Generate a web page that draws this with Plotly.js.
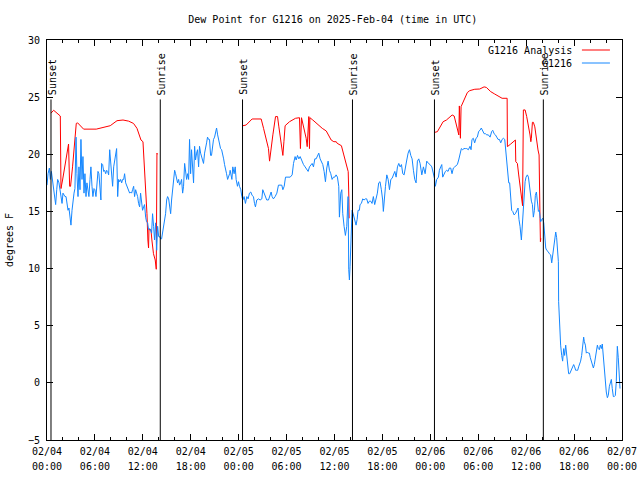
<!DOCTYPE html>
<html>
<head>
<meta charset="utf-8">
<script src="https://cdn.plot.ly/plotly-3.0.1.min.js"></script>
<style>html,body{margin:0;padding:0;background:#fff;}#chart{width:640px;height:480px;}</style>
</head>
<body>
<div id="chart"></div>
<script>
// ---- data (minutes after 2025-02-04 00:00 UTC) ----
const startDate = '2025-02-04';
const endDate = '2025-02-07';

const blueMinutes = [0,8,18,25,33,40,50,58,65,73,80,90,98,105,113,120,128,135,143,150,158,165,173,180,188,195,203,210,218,225,233,240,248,255,263,270,278,285,293,300,308,315,323,330,338,345,353,360,368,375,383,390,398,405,410,418,426,433,441,448,456,463,471,478,486,493,501,508,516,523,531,538,546,553,561,568,576,583,591,598,606,613,621,628,636,643,651,658,666,673,681,688,696,703,711,718,726,733,741,748,756,763,771,778,786,793,801,808,816,824,831,839,846,854,861,869,876,884,891,899,906,914,921,929,936,944,951,959,966,974,981,989,996,1004,1011,1019,1026,1034,1041,1049,1056,1064,1071,1079,1086,1094,1101,1109,1116,1124,1131,1139,1146,1154,1161,1169,1176,1184,1191,1199,1206,1214,1221,1229,1236,1244,1251,1259,1267,1274,1282,1289,1297,1304,1312,1319,1327,1334,1342,1349,1357,1364,1372,
1376,1389,1396,1406,1414,1421,1431,1439,1446,1456,1464,1471,1481,1491,1501,1511,1521,1531,1541,1551,1559,1566,1576,1589,1601,1614,1621,1631,1641,1651,1664,1676,1684,1691,1701,1714,1727,1739,1752,1764,1772,1782,1792,1802,1827,1842,1852,1864,1872,1882,1892,1902,1914,1927,1939,1952,1962,1972,1982,1992,2002,2012,2022,2032,2042,2052,2062,2072,2082,2092,2102,2112,2122,2132,2142,2152,2162,2172,2182,2192,2197,2207,2215,2222,2232,2242,2252,2262,2267,2272,2277,2285,2292,2300,2307,2315,2322,2330,2337,2347,2352,2362,2372,2382,2392,2402,2412,2422,2432,2442,2452,2462,2472,2482,2492,2502,2512,2522,2527,2535,2543,2553,2563,2573,2583,2593,2603,2613,2623,2633,2643,2653,2663,2673,2683,2693,2703,2713,2723,2733,2743,2753,2763,2773,2783,2793,2803,
2816,2828,2841,2853,2866,2878,2891,2903,2911,2918,2928,2941,2948,2958,2966,2973,2983,2993,3003,3013,3023,3033,3043,3053,3063,3073,3083,3093,3103,3113,3123,3133,3143,3153,3166,3178,3186,3193,3203,3213,3223,3233,3243,3253,3263,3274,3284,3294,3304,3316,3329,3341,3349,3359,3369,3379,3389,3399,3409,3419,3429,3439,3446,3454,3461,3469,3476,3484,3491,3499,3509,3519,3529,3539,3546,3554,3564,3571,3579,
3584,3592,3599,3609,3617,3624,3632,3639,3647,3654,3662,3669,3677,3684,3692,3699,3709,3717,3724,3732,3739,3747,3754,3764,3774,3784,3792,3799,3807,3814,3822,3829,3837,3842,3844,3852,3859,3867,3874,3882,3889,3897,3904,3912,3919,3927,3934,3942,3949,3957,3964,3972,3979,3987,3994,4002,4009,4017,4024,4032,4037,4045,4052,4060,4067,4075,4082,4090,4097,4105,4112,4120,4127,4135,4142,4150,4157,4165,4172,4180,4187,4195,4202,4210,4217,4225,4232,4240,4247,4255,4262,4270,4277,4285,4292,4300,4305];

const blueValues = [17.3,18.3,18.8,17.8,18.5,17.8,17.2,16.3,15.6,16.9,17.8,17.5,17.0,16.4,15.7,16.6,16.4,16.3,16.3,15.4,15.1,15.3,14.3,13.8,15.1,16.0,16.6,17.0,21.5,18.3,16.3,18.9,16.9,21.3,17.8,19.8,16.6,18.3,16.3,17.5,16.6,16.3,17.8,18.9,17.2,16.3,17.0,16.9,16.3,17.8,18.5,18.3,17.2,16.0,19.2,19.1,18.5,18.6,18.3,18.6,18.5,18.2,20.4,19.2,18.3,17.2,18.9,19.5,20.1,20.5,16.3,17.8,17.6,17.8,17.5,17.8,17.8,18.3,17.5,17.3,17.2,17.0,16.6,16.7,16.6,16.9,17.2,16.3,16.9,16.6,16.3,15.7,15.4,16.6,15.7,15.1,15.4,15.6,14.5,14.1,14.0,13.4,13.5,13.4,13.1,14.8,13.7,12.5,14.0,11.6,13.7,12.8,12.8,12.6,12.6,13.1,13.7,14.3,14.8,16.0,16.3,16.1,15.4,14.8,16.0,16.9,17.8,18.6,18.3,17.8,17.5,17.8,17.3,17.5,17.8,16.6,17.2,19.2,18.3,17.8,18.3,17.8,21.3,18.3,20.4,18.3,17.5,20.7,19.5,20.1,20.4,18.9,20.7,20.1,19.8,19.5,19.2,20.1,20.7,21.0,21.5,21.3,21.3,19.9,19.9,20.7,21.3,21.5,22.1,22.3,21.7,21.3,20.7,20.5,20.4,20.1,19.6,19.1,18.5,18.3,17.8,18.0,18.3,
18.6,17.8,18.9,18.3,18.9,17.8,17.2,17.6,17.2,16.9,16.3,16.0,16.3,15.7,16.3,16.1,16.6,16.7,16.4,16.3,15.7,15.4,16.0,16.1,16.0,16.1,16.9,16.6,16.3,16.0,16.0,16.4,16.7,16.3,16.1,16.3,16.6,17.3,17.3,17.3,16.9,17.2,18.0,18.0,18.0,18.2,19.2,19.8,19.5,19.9,19.6,19.8,19.4,19.1,18.9,18.6,18.5,18.9,19.1,19.2,18.9,19.6,19.6,19.9,20.1,19.6,19.4,19.1,18.5,17.6,18.8,19.4,18.6,18.3,17.8,18.0,18.0,18.2,18.0,17.2,14.5,16.6,16.9,14.8,13.7,12.9,13.7,16.3,9.9,9.0,10.2,13.1,15.1,14.8,14.5,14.3,13.8,14.3,15.1,15.1,15.6,15.7,16.1,16.0,16.1,16.1,15.7,15.9,15.9,15.7,16.3,15.6,16.0,16.6,17.5,17.6,16.9,16.0,15.0,16.6,17.2,18.2,17.8,16.9,17.8,17.9,18.3,18.5,18.0,18.9,19.2,18.9,19.1,18.3,18.2,19.1,19.5,20.1,20.4,19.9,19.6,18.6,17.8,17.5,19.4,19.6,19.2,
18.2,18.9,18.3,19.4,19.2,19.1,18.9,18.3,17.9,17.2,17.8,18.0,18.6,18.9,19.1,18.0,18.3,18.5,18.6,18.5,18.8,18.8,18.3,18.8,18.9,19.0,19.1,19.5,20.1,20.5,20.4,20.5,20.5,20.5,20.4,20.7,20.4,21.3,21.4,21.0,21.4,21.5,22.0,22.1,22.3,22.0,21.8,21.8,21.7,21.7,21.5,22.0,22.1,21.8,21.7,21.5,21.3,21.3,21.0,21.3,21.4,21.3,20.4,19.6,18.9,17.5,17.5,16.0,15.1,15.0,14.7,14.8,15.1,15.3,14.3,13.7,12.5,14.0,15.4,
17.0,17.6,18.0,18.2,18.0,17.2,16.3,15.9,15.6,14.5,15.1,16.4,16.7,15.9,15.0,15.1,14.1,14.3,14.4,14.0,12.4,11.8,11.6,11.5,11.3,11.2,10.5,11.2,12.1,12.9,13.2,12.7,11.5,10.6,7.1,4.5,3.3,2.4,1.9,3.0,2.4,3.3,2.3,1.3,0.8,0.8,1.0,1.3,1.5,1.6,1.4,1.1,1.1,1.1,1.4,1.6,1.9,2.4,3.5,4.0,3.6,3.3,2.6,2.7,2.6,2.6,2.2,1.9,1.6,1.3,1.6,2.2,2.7,3.3,3.0,2.9,3.3,3.0,3.4,2.2,1.3,0.5,-0.8,-1.3,-1.1,-0.3,0.1,0.3,-0.5,-1.2,-1.2,-1.1,0.1,3.2,2.2,0.4,-0.5];

const redMinutes = [30,50,100,105,117,137,158,162,170,177,192,207,220,230,250,275,370,413,475,526,571,613,650,676,706,721,733,743,751,758,763,766,781,788,800,813,821,826,830,
1150,
1472,1496,1541,1609,1627,1647,1664,1672,1679,1697,1717,1732,1742,1759,1772,1780,1789,1822,1867,1897,1904,1912,1930,1947,1955,1962,1967,1972,1975,1997,2035,2068,2098,2135,2155,2173,2180,2212,2230,2248,2263,2268,2270,
2590,
2914,2933,2976,3001,3044,3059,3076,3094,3098,3106,3111,3121,3139,3158,3176,3214,3251,3284,3301,3334,3364,3389,3419,3457,3459,3484,3519,3522,3534,3544,3556,3573,3579,3592,3604,3622,3629,3635,3639,3647,3654,3665,3672,3680,3689,3697,3699,3704,3707,3710];

const redValues = [23.6,23.85,23.35,17.0,17.75,19.2,20.5,20.9,17.2,17.2,18.9,20.7,22.7,22.75,22.5,22.2,22.2,22.35,22.5,22.94,23.0,22.9,22.7,22.27,21.25,21.1,18.9,17.2,14.8,12.5,11.8,13.4,13.4,12.5,11.3,10.75,9.94,20.1,20.0,
null,
22.5,22.56,23.09,23.09,22.27,21.4,20.5,19.4,20.1,21.7,23.3,23.3,22.4,20.8,19.9,21.1,22.5,22.85,23.15,23.2,20.5,23.2,22.27,21.4,20.67,22.4,23.3,20.5,23.2,23.0,22.6,22.27,22.04,21.25,21.1,21.1,20.96,20.75,19.94,19.0,18.48,16.15,14.4,
null,
21.92,21.98,22.85,23.0,23.44,23.35,22.56,21.69,24.23,21.4,24.17,24.46,24.9,25.4,25.57,25.69,25.71,25.9,25.85,25.48,25.27,25.1,24.9,24.9,20.67,20.9,21.25,19.35,19.2,18.19,16.88,15.5,23.88,23.88,23.3,22.27,21.69,21.1,21.4,22.8,22.8,22.4,21.69,20.96,20.38,19.94,16.15,14.4,12.35,12.65];

const eventMinutes = [30, 851, 1469, 2295, 2911, 3729];
const eventLabels = ['Sunset','Sunrise','Sunset','Sunrise','Sunset','Sunrise'];

const seriesNames = ['G1216 Analysis', 'G1216'];
const seriesColors = ['#ff0000', '#1487ff'];

// ---- helpers ----
const BASE = Date.UTC(2025, 1, 4, 0, 0, 0);
function ts(m) {
  const d = new Date(BASE + m * 60000);
  return d.toISOString().slice(0, 19).replace('T', ' ');
}

const FONT = {family: 'DejaVu Sans Mono, monospace', size: 10, color: '#000'};
const xRange = [startDate + ' 00:00', endDate + ' 00:00'];

const traces = [
  {x: redMinutes.map(ts), y: redValues, type: 'scatter', mode: 'lines',
   name: seriesNames[0], line: {color: seriesColors[0], width: 1}, connectgaps: false, hoverinfo: 'skip'},
  {x: blueMinutes.map(ts), y: blueValues, type: 'scatter', mode: 'lines',
   name: seriesNames[1], line: {color: seriesColors[1], width: 1}, hoverinfo: 'skip'},
  // empty trace so the second (time-of-day label) axis is drawn
  {x: [], y: [], xaxis: 'x2', yaxis: 'y', type: 'scatter', mode: 'lines', hoverinfo: 'skip'}
];

const shapes = eventMinutes.map(m => ({
  type: 'line', xref: 'x', yref: 'y', x0: ts(m), x1: ts(m), y0: -5, y1: 24.8,
  line: {color: '#000', width: 1}
}));
const annotations = eventMinutes.map((m, i) => ({
  x: ts(m), y: 25.0, xref: 'x', yref: 'y', text: eventLabels[i], showarrow: false,
  textangle: -90, xanchor: 'center', yanchor: 'bottom', font: FONT, xshift: 1
}));

// legend (text left of sample line, gnuplot style)
const legY = [0.975, 0.9425];
seriesNames.forEach((n, i) => {
  annotations.push({x: 0.9166, y: legY[i], xref: 'paper', yref: 'paper', text: n, showarrow: false,
    xanchor: 'right', yanchor: 'middle', font: FONT});
  shapes.push({type: 'line', xref: 'paper', yref: 'paper', x0: 0.9303, x1: 0.979, y0: legY[i], y1: legY[i],
    line: {color: seriesColors[i], width: 1}});
});

const layout = {
  width: 640, height: 480,
  margin: {l: 47, r: 18, t: 40, b: 40},
  paper_bgcolor: '#fff', plot_bgcolor: '#fff',
  font: FONT,
  showlegend: false,
  title: {text: 'Dew Point for G1216 on 2025-Feb-04 (time in UTC)', font: FONT,
          x: 0.497, xref: 'paper', xanchor: 'center', y: 0.9604, yref: 'container', yanchor: 'middle'},
  xaxis: {
    type: 'date', range: xRange,
    dtick: 6 * 3600000, tick0: startDate + ' 00:00', tickformat: '%m/%d',
    ticks: 'inside', ticklen: 6, tickcolor: '#000', tickwidth: 1,
    minor: {dtick: 2 * 3600000, ticks: 'inside', ticklen: 3, tickcolor: '#000', showgrid: false},
    showline: true, linecolor: '#000', linewidth: 1, mirror: 'ticks',
    showgrid: false, zeroline: false, tickfont: FONT, ticklabelstandoff: 2, fixedrange: true
  },
  xaxis2: {
    type: 'date', range: xRange, overlaying: 'x', anchor: 'y', side: 'bottom',
    dtick: 6 * 3600000, tick0: startDate + ' 00:00', tickformat: '%H:%M',
    ticks: '', showline: false, showgrid: false, zeroline: false,
    tickfont: FONT, ticklabelstandoff: 19, fixedrange: true
  },
  yaxis: {
    range: [-5, 30], dtick: 5, tick0: 0,
    ticks: 'inside', ticklen: 6, tickcolor: '#000', tickwidth: 1,
    showline: true, linecolor: '#000', linewidth: 1, mirror: 'ticks',
    showgrid: false, zeroline: false, tickfont: FONT, ticklabelstandoff: 4,
    title: {text: 'degrees F', font: FONT, standoff: 12}, fixedrange: true
  },
  shapes: shapes,
  annotations: annotations
};

Plotly.newPlot('chart', traces, layout, {staticPlot: true, displayModeBar: false});
</script>
</body>
</html>
